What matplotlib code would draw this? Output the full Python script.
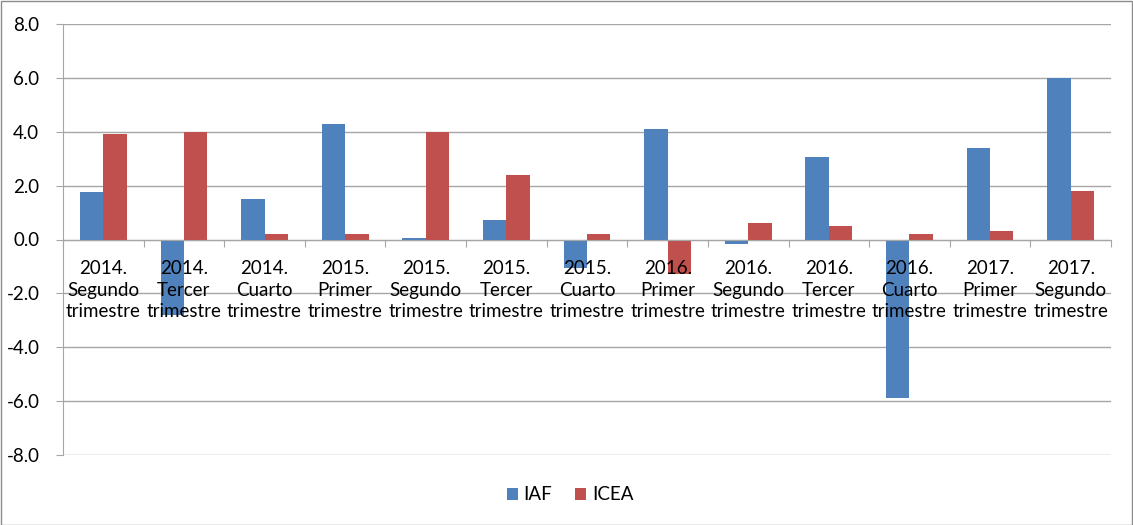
import matplotlib
matplotlib.use("Agg")
import matplotlib.pyplot as plt
import numpy as np
from matplotlib.patches import Rectangle

categories = ["2014.\nSegundo\ntrimestre", "2014.\nTercer\ntrimestre", "2014.\nCuarto\ntrimestre",
              "2015.\nPrimer\ntrimestre", "2015.\nSegundo\ntrimestre", "2015.\nTercer\ntrimestre",
              "2015.\nCuarto\ntrimestre", "2016.\nPrimer\ntrimestre", "2016.\nSegundo\ntrimestre",
              "2016.\nTercer\ntrimestre", "2016.\nCuarto\ntrimestre", "2017.\nPrimer\ntrimestre",
              "2017.\nSegundo\ntrimestre"]
iaf = [1.75, -2.8, 1.52, 4.27, 0.05, 0.74, -1.05, 4.1, -0.17, 3.07, -5.9, 3.4, 6.0]
icea = [3.9, 4.0, 0.2, 0.2, 4.0, 2.4, 0.2, -1.27, 0.6, 0.5, 0.2, 0.3, 1.8]
yticks = [-8.0, -6.0, -4.0, -2.0, 0.0, 2.0, 4.0, 6.0, 8.0]

plt.rcParams['font.family'] = ['Lato', 'DejaVu Sans']

W, H = 1133, 525
fig = plt.figure(figsize=(W/100, H/100), dpi=100)
fig.patches.append(Rectangle((0.5/W, 0.5/H), 1-1.5/W, 1-1.5/H, transform=fig.transFigure,
                             fill=False, edgecolor='#8c8c8c', linewidth=1))
ax = fig.add_axes([63/W, 1-455/H, (1111-63)/W, (455-24)/H])

x = np.arange(len(categories))
bw = 0.29
ax.bar(x - bw/2, iaf, bw, color='#4F81BD', label='IAF', zorder=3)
ax.bar(x + bw/2, icea, bw, color='#C0504D', label='ICEA', zorder=3)

ax.set_xlim(-0.5, len(categories) - 0.5)
ax.set_ylim(-8, 8)
ax.set_yticks(yticks)
ax.set_yticklabels([f"{v:.1f}" for v in yticks], fontsize=13.5)
ax.yaxis.grid(True, color='#a6a6a6', linewidth=1, zorder=0)
ax.tick_params(axis='y', length=5, color='#a6a6a6', pad=12)

for s in ['top', 'right']:
    ax.spines[s].set_visible(False)
ax.spines['left'].set_color('#a6a6a6')
ax.spines['bottom'].set_position(('data', 0))
ax.spines['bottom'].set_color('#a6a6a6')
ax.spines['bottom'].set_zorder(4)
ax.set_xticks(np.arange(len(categories) + 1) - 0.5)
ax.set_xticklabels([])
ax.tick_params(axis='x', length=5, color='#a6a6a6', direction='out')

for i, c in enumerate(categories):
    ax.annotate(c, xy=(i, 0), xytext=(0, -15), textcoords='offset points',
                ha='center', va='top', fontsize=13.5, linespacing=1.3, zorder=5)

fig.legend(loc='center', bbox_to_anchor=(570/W, 1-495/H), ncol=2, frameon=False,
           fontsize=13.5, handlelength=0.6, handleheight=0.6, handletextpad=0.3, columnspacing=1.2)

fig.savefig('out.png', dpi=100)
